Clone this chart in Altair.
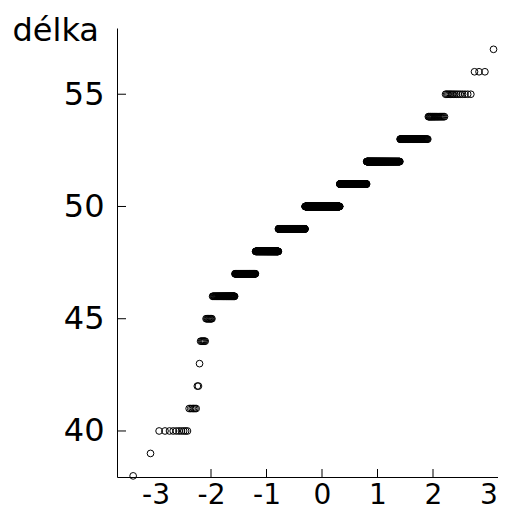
import altair as alt
import numpy as np
import pandas as pd

# birth lengths (cm) and how many newborns have each length
lengths = [38, 39, 40, 41, 42, 43, 44, 45, 46, 47, 48, 49, 50, 51, 52, 53, 54, 55, 56, 57]
counts = [1, 1, 10, 6, 2, 1, 6, 9, 51, 86, 151, 246, 368, 246, 196, 78, 22, 15, 3, 2]

y_ticks = [40, 45, 50, 55]
x_labels = [-3, -2, -1, 0, 1, 2, 3]
x_ticks = [-2, -1, 0, 1, 2]

df = pd.DataFrame({"delka": np.repeat(lengths, counts)})

W, H = 381, 449
xdom = [-3.694, 3.171]
ydom = [37.95, 57.95]
FONT = "DejaVu Sans"

xscale = alt.Scale(domain=xdom, nice=False, zero=False)
yscale = alt.Scale(domain=ydom, nice=False, zero=False)

xaxis = alt.Axis(
    values=x_labels, ticks=False, tickSize=0, grid=False, domain=True,
    domainColor="black", domainWidth=1, labelFontSize=28, labelFont=FONT,
    labelColor="black", labelPadding=4, labelExpr="'' + datum.value",
    labelFlush=False, labelOverlap=False, title=None)
yaxis = alt.Axis(
    values=y_ticks, ticks=False, tickSize=0, grid=False, domain=True,
    domainColor="black", domainWidth=1, labelFontSize=32, labelFont=FONT,
    labelColor="black", labelPadding=13, labelFlush=False, labelOverlap=False,
    title="délka", titleAngle=0, titleAlign="left", titleBaseline="alphabetic",
    titleX=-105, titleY=12, titleFont=FONT, titleFontSize=32,
    titleFontWeight="normal", titleColor="black")

points = alt.Chart(df).transform_window(
    rank="row_number()", sort=[alt.SortField("delka")]
).transform_joinaggregate(
    n="count()"
).transform_calculate(
    q="quantileNormal((datum.rank - 0.5) / datum.n)"
).mark_point(
    shape="circle", filled=False, color="black", size=45, strokeWidth=1, opacity=1
).encode(
    x=alt.X("q:Q", scale=xscale, axis=xaxis),
    y=alt.Y("delka:Q", scale=yscale, axis=yaxis),
)

yt = alt.Chart(pd.DataFrame({"v": y_ticks})).mark_rule(color="black", strokeWidth=1).encode(
    y=alt.Y("v:Q", scale=yscale, axis=yaxis),
    x=alt.value(0), x2=alt.value(9),
)

xt = alt.Chart(pd.DataFrame({"v": x_ticks})).mark_rule(color="black", strokeWidth=1).encode(
    x=alt.X("v:Q", scale=xscale, axis=xaxis),
    y=alt.value(H), y2=alt.value(H - 8),
)

chart = alt.layer(points, yt, xt).properties(
    width=W, height=H,
    background="white",
    autosize=alt.AutoSizeParams(type="none"),
    padding={"left": 109, "top": 20, "right": 0, "bottom": 36},
).configure_view(stroke=None)

chart.save("out.html", embed_options={"renderer": "svg", "actions": False})
